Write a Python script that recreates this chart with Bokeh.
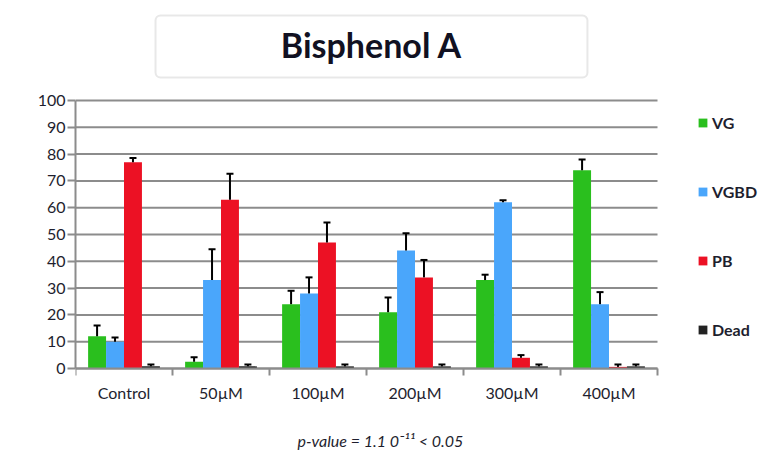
from bokeh.plotting import figure
from bokeh.models import (ColumnDataSource, Whisker, TeeHead, FixedTicker, Label,
                          BoxAnnotation, Legend, LegendItem)
from bokeh.embed import file_html
from bokeh.resources import INLINE

categories = ["Control", "50µM", "100µM", "200µM", "300µM", "400µM"]
series_names = ["VG", "VGBD", "PB", "Dead"]
vg = [12, 2.5, 24, 21, 33, 74]
vg_err = [4, 1.7, 5, 5.5, 2, 4]
vgbd = [10, 33, 28, 44, 62, 24]
vgbd_err = [1.6, 11.5, 6, 6.5, 0.8, 4.5]
pb = [77, 63, 47, 34, 4, 0.6]
pb_err = [1.5, 9.7, 7.5, 6.5, 1, 0.9]
dead = [0.8, 0.8, 0.8, 0.8, 0.8, 0.8]
dead_err = [0.7, 0.7, 0.7, 0.7, 0.7, 0.7]
y_ticks = list(range(0, 101, 10))
y_max = 100

colors = ["#2ABF1E", "#4AA6FB", "#EC1124", "#222222"]
offsets = [-0.2775, -0.0925, 0.0925, 0.2775]
bar_w = 0.185
values = [vg, vgbd, pb, dead]
errors = [vg_err, vgbd_err, pb_err, dead_err]

FONT = "Lato"
TXT = "#1e1e2e"
GRID = "#8c8c8c"
n = len(categories)

# frame spans x 75..765 and y 0..456 px; 97 px per group, 2.68 px per unit, y=0 at 368 px
p = figure(width=765, height=456, output_backend="svg", toolbar_location=None,
           x_range=(0, 690 / 97), y_range=(-88 / 2.68, 368 / 2.68),
           min_border_left=75, min_border_right=0, min_border_top=0,
           min_border_bottom=0)
p.outline_line_color = None
p.xgrid.grid_line_color = None
p.ygrid.grid_line_color = None

# horizontal grid lines over the category span only
p.segment(x0=[0] * len(y_ticks), x1=[n] * len(y_ticks), y0=y_ticks, y1=y_ticks,
          line_color=GRID, line_width=2)

legend_items = []
for name, vals, errs, col, off in zip(series_names, values, errors, colors, offsets):
    xs = [i + 0.5 + off for i in range(n)]
    src = ColumnDataSource(dict(x=xs, top=vals,
                                upper=[v + e for v, e in zip(vals, errs)]))
    r = p.vbar(x="x", top="top", width=bar_w, bottom=0, source=src,
               fill_color=col, line_color=None)
    legend_items.append(LegendItem(label=name, renderers=[r]))
    w = Whisker(base="x", lower="top", upper="upper", source=src,
                line_color="black", line_width=2,
                upper_head=TeeHead(size=7, line_color="black", line_width=2),
                lower_head=None, level="overlay")
    p.add_layout(w)

# axes
p.yaxis.bounds = (0, y_max)
p.yaxis.ticker = FixedTicker(ticks=y_ticks)
p.yaxis.axis_line_color = GRID
p.yaxis.axis_line_width = 2
p.yaxis.major_tick_line_color = GRID
p.yaxis.major_tick_line_width = 2
p.yaxis.major_tick_in = 0
p.yaxis.major_tick_out = 8
p.yaxis.minor_tick_line_color = None
p.yaxis.major_label_standoff = 2
p.yaxis.major_label_text_font = FONT
p.yaxis.major_label_text_font_size = "16px"
p.yaxis.major_label_text_color = TXT

centers = [i + 0.5 for i in range(n)]
p.xaxis.fixed_location = 0
p.xaxis.bounds = (0, n)
p.xaxis.ticker = FixedTicker(ticks=centers, minor_ticks=list(range(n + 1)))
p.xaxis.major_label_overrides = {c: lab for c, lab in zip(centers, categories)}
p.xaxis.axis_line_color = GRID
p.xaxis.axis_line_width = 2
p.xaxis.major_tick_line_color = None
p.xaxis.major_tick_in = 0
p.xaxis.major_tick_out = 0
p.xaxis.minor_tick_line_color = GRID
p.xaxis.minor_tick_line_width = 2
p.xaxis.minor_tick_in = 0
p.xaxis.minor_tick_out = 7
p.xaxis.major_label_standoff = 7
p.xaxis.major_label_text_font = FONT
p.xaxis.major_label_text_font_size = "16px"
p.xaxis.major_label_text_color = TXT

# title box and title
box = BoxAnnotation(left=0.825, right=5.278, bottom=108.6, top=131.7,
                    fill_alpha=0, line_color="#b4b4b4", line_width=2,
                    border_radius=5, level="overlay")
p.add_layout(box)
p.add_layout(Label(x=3.052, y=120.8, text="Bisphenol A", text_align="center",
                   text_baseline="middle", text_font=FONT,
                   text_font_style="bold", text_font_size="34px",
                   text_color="#111122"))
p.add_layout(Label(x=3.144, y=-26.9, text="p-value = 1.1 0⁻¹¹ < 0.05",
                   text_align="center", text_baseline="middle", text_font=FONT,
                   text_font_style="italic", text_font_size="16px",
                   text_color=TXT))

legend = Legend(items=legend_items, location=(622, 117), orientation="vertical",
                padding=0, margin=0, spacing=50, label_height=18,
                glyph_height=11, glyph_width=11, label_standoff=4,
                border_line_alpha=0, background_fill_alpha=0,
                label_text_font=FONT, label_text_font_style="bold",
                label_text_font_size="16px", label_text_color=TXT)
p.add_layout(legend)

open("out.html", "w").write(file_html(p, INLINE))
